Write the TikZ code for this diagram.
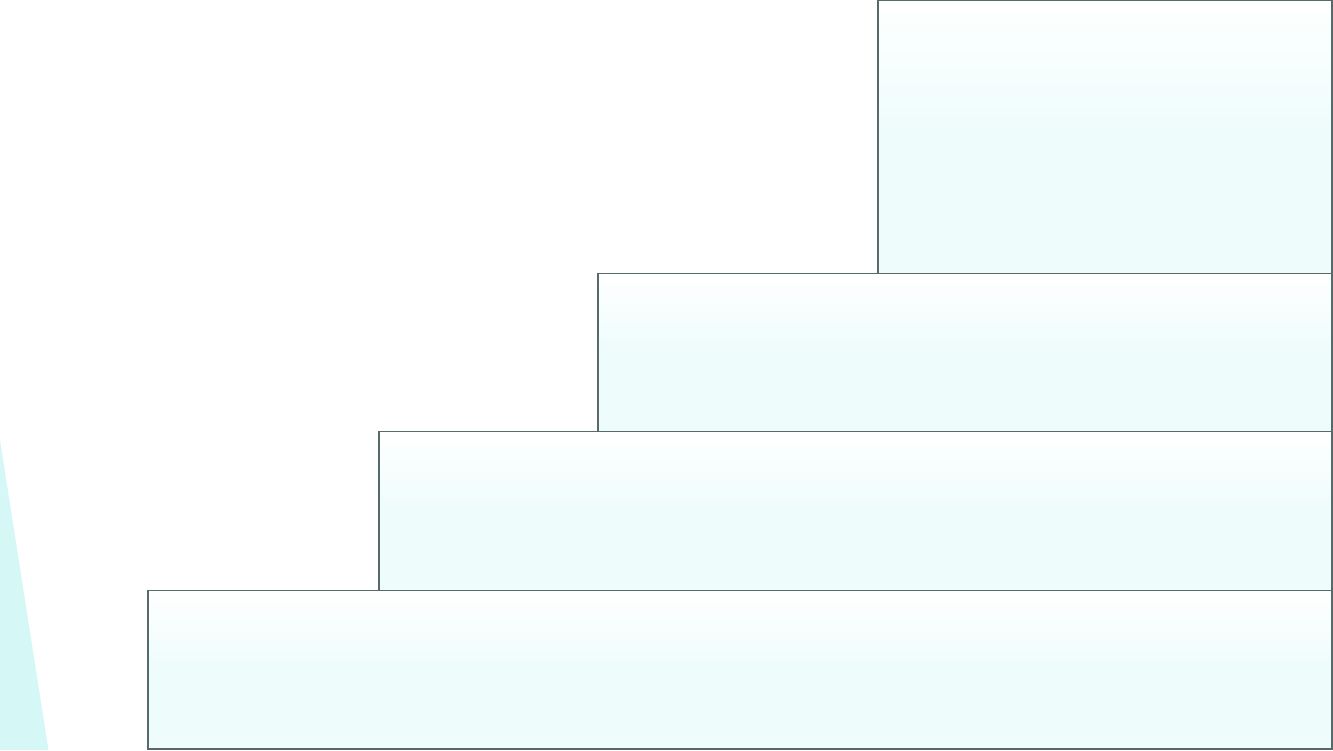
\documentclass[tikz,border=0pt]{standalone}
\usepackage{tikz}
\definecolor{edgecol}{HTML}{566A6A}
\definecolor{fillcol}{HTML}{EEFCFC}
\definecolor{tricol}{HTML}{D5F8F6}
\tikzset{
  stepbox/.style={draw=edgecol, line width=1.6pt, rectangle, inner sep=0pt, outer sep=0pt,
    top color=white, bottom color=fillcol, middle color=fillcol, anchor=north west},
}
\begin{document}
\begin{tikzpicture}[x=1pt,y=-1pt]
\useasboundingbox (0,0) rectangle (1333,750);
\clip (0,0) rectangle (1333,750);
\fill[tricol] (0,440) -- (48.5,750) -- (0,750) -- cycle;
\node[stepbox, minimum width=454pt, minimum height=273pt] (s1) at (878,0.6) {};
\node[stepbox, minimum width=734pt, minimum height=158pt] (s2) at (598,273.5) {};
\node[stepbox, minimum width=953pt, minimum height=159pt] (s3) at (379,431.5) {};
\node[stepbox, minimum width=1184pt, minimum height=158.5pt] (s4) at (148,590.5) {};
\end{tikzpicture}
\end{document}
